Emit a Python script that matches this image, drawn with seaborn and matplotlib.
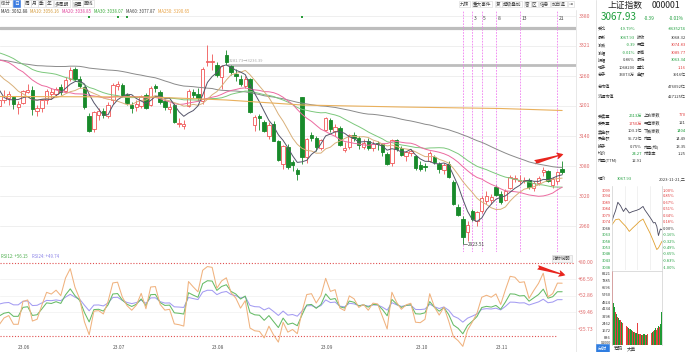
import numpy as np
import pandas as pd
import matplotlib
matplotlib.use("Agg")
import matplotlib.pyplot as plt
import seaborn as sns
from matplotlib.patches import Rectangle
from matplotlib.transforms import blended_transform_factory

# ---------------- data ----------------
# closes before the visible window (2023-02-27 .. 2023-05-25), used for MAs / RSI
pre_close = [3258.03, 3279.61, 3312.35, 3310.65, 3328.39, 3322.03, 3285.10, 3283.25, 3276.09, 3230.08,
             3268.70, 3245.31, 3263.31, 3226.89, 3250.55, 3234.91, 3255.65, 3265.75, 3286.65, 3265.65,
             3251.40, 3245.38, 3240.06, 3261.25, 3272.86,
             3296.40, 3312.56, 3312.39, 3327.65, 3315.36, 3313.57, 3318.36, 3336.15, 3338.15, 3385.61,
             3393.33, 3370.13, 3367.03, 3301.26, 3275.41, 3264.87, 3264.10, 3285.88, 3323.28,
             3350.46, 3334.50, 3395.00, 3357.67, 3319.15, 3309.55, 3272.36, 3310.75, 3290.99, 3284.23,
             3297.32, 3283.54, 3296.47, 3246.24, 3204.75, 3201.26]

dates = ["05-26", "05-29", "05-30", "05-31",
         "06-01", "06-02", "06-05", "06-06", "06-07", "06-08", "06-09", "06-12", "06-13", "06-14", "06-15",
         "06-16", "06-19", "06-20", "06-21", "06-26", "06-27", "06-28", "06-29", "06-30",
         "07-03", "07-04", "07-05", "07-06", "07-07", "07-10", "07-11", "07-12", "07-13", "07-14", "07-17",
         "07-18", "07-19", "07-20", "07-21", "07-24", "07-25", "07-26", "07-27", "07-28", "07-31",
         "08-01", "08-02", "08-03", "08-04", "08-07", "08-08", "08-09", "08-10", "08-11", "08-14", "08-15",
         "08-16", "08-17", "08-18", "08-21", "08-22", "08-23", "08-24", "08-25", "08-28", "08-29", "08-30", "08-31",
         "09-01", "09-04", "09-05", "09-06", "09-07", "09-08", "09-11", "09-12", "09-13", "09-14", "09-15",
         "09-18", "09-19", "09-20", "09-21", "09-22", "09-25", "09-26", "09-27", "09-28",
         "10-09", "10-10", "10-11", "10-12", "10-13", "10-16", "10-17", "10-18", "10-19", "10-20", "10-23",
         "10-24", "10-25", "10-26", "10-27", "10-30", "10-31",
         "11-01", "11-02", "11-03", "11-06", "11-07", "11-08", "11-09", "11-10", "11-13", "11-14", "11-15",
         "11-16", "11-17", "11-20", "11-21"]

open_ = [3201, 3213, 3216, 3218, 3198, 3206, 3229, 3232, 3190, 3196, 3213, 3225, 3225, 3238, 3230, 3254, 3274, 3255,
         3238, 3181, 3154, 3183, 3191, 3181, 3212, 3241, 3242, 3222, 3202, 3198, 3200, 3222, 3202, 3240, 3228, 3210,
         3195, 3202, 3164, 3160, 3200, 3229, 3225, 3210, 3288, 3288, 3283, 3258, 3302, 3280, 3264, 3255, 3240, 3254,
         3163, 3180, 3168, 3140, 3165, 3130, 3085, 3119, 3088, 3072, 3219, 3098, 3143, 3136, 3116, 3152, 3172, 3150,
         3157, 3112, 3118, 3143, 3137, 3118, 3130, 3116, 3126, 3124, 3104, 3086, 3132, 3116, 3101, 3106, 3100, 3082,
         3080, 3090, 3098, 3084, 3072, 3085, 3048, 2998, 2975, 2948, 2990, 2970, 2990, 3010, 3012, 3038, 3025, 3012,
         3036, 3055, 3050, 3050, 3052, 3036, 3046, 3068, 3070, 3043, 3050, 3074.83]
high = [3219, 3233, 3230, 3221, 3210, 3232, 3244, 3240, 3203, 3215, 3235, 3236, 3238, 3244, 3259, 3279, 3279, 3260,
        3240, 3186, 3190, 3196, 3197, 3208, 3247, 3250, 3246, 3226, 3208, 3212, 3222, 3226, 3240, 3244, 3232, 3214,
        3207, 3206, 3176, 3172, 3235, 3234, 3237, 3278, 3322, 3305, 3288, 3282, 3313, 3282, 3275, 3262, 3260, 3256,
        3182, 3185, 3172, 3168, 3170, 3133, 3122, 3124, 3093, 3076, 3219, 3136, 3148, 3140, 3135, 3179, 3177, 3164,
        3160, 3128, 3144, 3148, 3140, 3135, 3136, 3130, 3130, 3126, 3108, 3134, 3135, 3120, 3110, 3115, 3102, 3090,
        3086, 3110, 3103, 3088, 3086, 3090, 3052, 3005, 2980, 2970, 2995, 2990, 3020, 3030, 3024, 3042, 3030, 3035,
        3062, 3062, 3063, 3058, 3056, 3050, 3060, 3078, 3072, 3058, 3070, 3089.77]
low = [3195, 3207, 3203, 3195, 3184, 3204, 3226, 3182, 3180, 3189, 3205, 3215, 3220, 3222, 3228, 3250, 3250, 3237,
       3195, 3148, 3149, 3172, 3176, 3176, 3205, 3232, 3218, 3202, 3186, 3190, 3196, 3194, 3200, 3228, 3205, 3193,
       3187, 3166, 3158, 3155, 3198, 3216, 3210, 3205, 3280, 3272, 3259, 3235, 3282, 3262, 3250, 3240, 3236, 3186,
       3150, 3152, 3148, 3135, 3130, 3090, 3075, 3075, 3070, 3053, 3085, 3086, 3130, 3110, 3112, 3150, 3148, 3140,
       3120, 3108, 3115, 3130, 3115, 3115, 3112, 3110, 3112, 3100, 3082, 3080, 3110, 3100, 3091, 3100, 3072, 3070,
       3070, 3088, 3085, 3066, 3064, 3056, 3003, 2980, 2923.51, 2930, 2970, 2960, 2986, 3005, 3005, 3020, 3005, 3010,
       3035, 3048, 3045, 3046, 3035, 3030, 3042, 3060, 3048, 3036, 3044, 3063.34]
close = [3212, 3221, 3224, 3204, 3204, 3230, 3232, 3195, 3197, 3213, 3231, 3229, 3234, 3229, 3253, 3273, 3255, 3241,
         3198, 3150, 3189, 3190, 3182, 3202, 3243, 3245, 3222, 3206, 3197, 3204, 3221, 3197, 3236, 3237, 3209, 3198,
         3199, 3169, 3167, 3164, 3231, 3223, 3216, 3275, 3291, 3290, 3262, 3280, 3288, 3268, 3260, 3244, 3254, 3189,
         3178, 3176, 3150, 3163, 3131, 3092, 3120, 3078, 3082, 3064, 3098, 3135, 3137, 3119, 3133, 3177, 3154, 3158,
         3122, 3116, 3142, 3137, 3122, 3126, 3117, 3125, 3124, 3108, 3084, 3132, 3115, 3102, 3108, 3110, 3076, 3075,
         3078, 3107, 3088, 3074, 3083, 3058, 3005, 2983, 2939, 2962, 2974, 2988, 3017, 3021, 3018, 3023, 3009, 3030,
         3058, 3057, 3052, 3053, 3038, 3047, 3056, 3072, 3050, 3054, 3068, 3067.93]

# MA250 (date, value)
ma250_dates = ["05-26", "07-13", "08-04", "08-28", "09-26", "11-02", "11-21"]
ma250_vals = [3219, 3218, 3212, 3202, 3198, 3195, 3191]

price_ticks = [3380, 3321, 3260, 3201, 3140, 3080, 3020, 2960]
rsi_ticks = [80.00, 66.59, 52.86, 39.46, 25.73]
event_dates = ["06-26", "07-04", "07-06", "08-28"]
fib_dates = ["10-23", "10-25", "10-27", "11-01", "11-08", "11-20"]
fib_labels = ["", "3", "5", "8", "13", "21"]
hline_levels = [3356, 3282]

# intraday (mini chart)
it_min = [0, 8, 17, 28, 41, 55, 66, 83, 99, 116, 132, 149, 157, 174, 190, 199, 207, 215, 223, 232, 240]
it_price = [3074.8, 3079.0, 3083.0, 3089.7, 3086.9, 3082.4, 3085.1, 3081.2, 3082.4, 3083.2, 3084.3, 3086.4,
            3083.8, 3079.8, 3075.9, 3073.3, 3073.7, 3070.6, 3063.3, 3068.5, 3067.9]
it_avg_min = [0, 17, 33, 50, 66, 83, 99, 116, 132, 149, 166, 182, 199, 215, 223, 240]
it_avg = [3071.9, 3075.9, 3076.4, 3073.3, 3070.6, 3066.6, 3069.3, 3071.9, 3074.5, 3076.4, 3070.6, 3065.4,
          3058.8, 3052.2, 3053.5, 3058.8]
it_vol = [8870, 4870, 4440, 3830, 3600, 3290, 3100, 2950, 2900, 2700, 2530, 2600, 2400, 2250, 2100, 2000,
          1900, 1850, 1700, 1650, 1560, 1500, 1450, 1400, 2530, 1350, 1300, 1250, 1200, 1180, 1250, 1300,
          1200, 1150, 1250, 1350, 1300, 1400, 1500, 1600, 1750, 1950, 1800, 2000, 2200, 2100, 2400, 3800]
it_vol_up = [1, 0, 0, 1, 0, 1, 0, 0, 1, 0, 1, 0, 0, 1, 1, 0, 1, 0, 0, 1, 0, 1, 0, 0, 1, 0, 1, 1, 0, 1, 0, 0,
             1, 0, 1, 0, 1, 1, 0, 1, 0, 0, 1, 1, 0, 1, 0, 0]
prev_close = 3068.32
mini_pct = [1.00, 0.85, 0.67, 0.51, 0.34, 0.18, 0.00, -0.16, -0.32, -0.49, -0.65, -0.83, -1.00]
mini_price_lbl = ["3099", "3094", "3089", "3084", "3079", "3074", "3068", "3063", "3058", "3053", "3048", "3043", "3038"]
vol_lbl = ["8221", "7385", "6596", "5760", "4924", "4134", "3298", "2462", "1672", "836"]
vol_lbl_val = [8221, 7385, 6596, 5760, 4924, 4134, 3298, 2462, 1672, 836]

# ---------------- derived indicators ----------------
n = len(close)
idx = np.arange(n)
s_all = pd.Series(pre_close + close, dtype=float)
npre = len(pre_close)
ma = {k: s_all.rolling(k).mean().iloc[npre:].to_numpy() for k in (5, 10, 20, 30, 60)}
d = s_all.diff().iloc[1:]
def csma(x, k):
    return x.ewm(alpha=1.0 / k, adjust=False).mean()
rsi = {}
for k in (6, 12, 24):
    r = csma(d.clip(lower=0), k) / csma(d.abs(), k) * 100
    rsi[k] = r.iloc[npre - 1:].to_numpy()
pos = {dt: i for i, dt in enumerate(dates)}

# ---------------- figure ----------------
sns.set_theme(style="white")
plt.rcParams['font.family'] = ['Noto Sans CJK SC', 'DejaVu Sans']
W, H = 688, 352
fig = plt.figure(figsize=(W / 100, H / 100), dpi=100)
fig.patch.set_facecolor("white")

def ftext(x, y, s, **kw):
    kw.setdefault("va", "center")
    return fig.text(x / W, 1 - y / H, s, **kw)

RED = "#f05656"
GREEN = "#188a2a"
TXT_RED = "#e03c3c"
TXT_GREEN = "#1e9e3c"
DARK = "#333333"

PX = 4.73          # pixels per candle
X0 = -0.7          # pixel of first candle
xl = ((0 - X0) / PX, (576 - X0) / PX)

# main price axes
ax = fig.add_axes([0, 1 - 252 / H, 576 / W, 242 / H])
ax.set_xlim(*xl)
ax.set_ylim(2908, 3392)
for sp in ax.spines.values():
    sp.set_visible(False)
ax.set_xticks([]); ax.set_yticks([])
for p in price_ticks:
    ax.axhline(p, color="#ececec", lw=0.6, zorder=0)
tr = blended_transform_factory(ax.transAxes, ax.transData)
for p in price_ticks:
    ax.text(1.004, p, f"{p}", transform=tr, fontsize=3.7, color="#e06a6a", va="center", ha="left", clip_on=False)

# drawn horizontal lines
ax.axhline(hline_levels[0], color="#bdbdbd", lw=2.3, zorder=1)
ax.plot([pos["07-31"] + 4.4, xl[1]], [hline_levels[1]] * 2, color="#bdbdbd", lw=2.0, zorder=1)
ax.text(pos["07-31"] + 4.6, hline_levels[1] + 7, "3281.73→3236.39", fontsize=3.0, color="#aaaaaa", va="center")

# candles
for i in range(n):
    o, h, l, c = open_[i], high[i], low[i], close[i]
    up = c >= o
    col = RED if up else GREEN
    ax.vlines(i, l, h, color=col, lw=0.6, zorder=3)
    b = min(o, c)
    hh = max(abs(c - o), 1.0)
    ax.add_patch(Rectangle((i - 0.36, b), 0.72, hh, facecolor="white" if up else col,
                           edgecolor=col, lw=0.6, zorder=4))

# moving averages
ma_cols = {5: "#55556a", 10: "#d9b07a", 20: "#ec6aa0", 30: "#7cc87c", 60: "#8a8a8a"}
for k in (60, 30, 20, 10, 5):
    sns.lineplot(x=idx, y=ma[k], ax=ax, color=ma_cols[k], lw=0.7, legend=False, zorder=5)
sns.lineplot(x=[pos[d_] for d_ in ma250_dates], y=ma250_vals, ax=ax, color="#e9b05c", lw=0.8,
             legend=False, zorder=5)
ax.set_xlabel(""); ax.set_ylabel("")

# event markers
ax.scatter([pos[d_] for d_ in event_dates], [3378] * len(event_dates), s=2.5, marker="s",
           color="#2a9d3a", zorder=6, linewidths=0)

# fibonacci time lines
for d_, lab in zip(fib_dates, fib_labels):
    ax.axvline(pos[d_], color="#f07ef0", lw=0.6, ls=(0, (2, 1.5)), zorder=2)
    if lab:
        ax.text(pos[d_] + 0.35, 3374, lab, fontsize=3.6, color="#444", va="center", ha="left")

# low annotation
i_low = pos["10-23"]
ax.plot([i_low, i_low + 0.9], [low[i_low] - 0.5, low[i_low] - 0.5], color="#555", lw=0.5, zorder=6)
ax.text(i_low + 1.0, low[i_low] - 0.5, "2923.51", fontsize=3.4, color="#444", va="center", ha="left")

ax.set_xlim(*xl)
ax.set_ylim(2908, 3392)

# RSI axes
ax2 = fig.add_axes([0, 0, 576 / W, 99 / H])
ax2.set_xlim(*xl)
ax2.set_ylim(7.2, 87.9)
for sp in ax2.spines.values():
    sp.set_visible(False)
ax2.set_xticks([]); ax2.set_yticks([])
for v in rsi_ticks[1:]:
    ax2.axhline(v, color="#f2f2f2", lw=0.6, zorder=0)
ax2.plot([xl[0], xl[1] - 0.5], [80, 80], color="#e05050", lw=0.8, ls=(0, (1, 1.6)))
ax2.plot([xl[0], pos["11-20"]], [20, 20], color="#e05050", lw=0.8, ls=(0, (1, 1.6)))
rsi_cols = {6: "#f0b27e", 12: "#66bb66", 24: "#a49cf2"}
for k in (24, 12, 6):
    sns.lineplot(x=idx, y=rsi[k], ax=ax2, color=rsi_cols[k], lw=0.75, legend=False)
ax2.set_xlabel(""); ax2.set_ylabel("")
tr2 = blended_transform_factory(ax2.transAxes, ax2.transData)
for v in rsi_ticks:
    ax2.text(1.003, v, f"+{v:.2f}", transform=tr2, fontsize=3.7, color="#e06a6a", va="center",
             ha="left", clip_on=False)
# month labels
seen = set()
for i, d_ in enumerate(dates):
    m = d_[:2]
    if m not in seen:
        seen.add(m)
        if m != "05":
            ax2.text(i, 10.8, f"23.{m}", fontsize=3.5, color="#555", va="center", ha="left")

# red arrows
ax.annotate("", xy=(566, H - 153.5), xytext=(532, H - 163), xycoords="figure pixels",
            textcoords="figure pixels",
            arrowprops=dict(arrowstyle="fancy,head_length=0.7,head_width=0.7,tail_width=0.45",
                            color="#e8251e", mutation_scale=7, lw=0))
ax2.annotate("", xy=(568, H - 276), xytext=(535, H - 266.5), xycoords="figure pixels",
             textcoords="figure pixels",
             arrowprops=dict(arrowstyle="fancy,head_length=0.7,head_width=0.7,tail_width=0.45",
                             color="#e8251e", mutation_scale=7, lw=0))

# 指标说明 button
ftext(562, 258.5, "指标说明", fontsize=3.2, color="#444", ha="center",
      bbox=dict(boxstyle="square,pad=0.25", fc="#f4f4f4", ec="#cfcfcf", lw=0.4))

# RSI legend
ftext(1, 257, "RSI12: +56.15", fontsize=3.1, color="#4cae4c", ha="left")
ftext(32, 257, "RSI24: +49.74", fontsize=3.1, color="#8c84e8", ha="left")

# MA legend
leg = [(1, "MA5: 3062.88", "#333333"), (30, "MA10: 3056.16", "#d49a3a"),
       (62, "MA20: 3038.85", "#e0409a"), (94, "MA30: 3038.07", "#3aaa3a"),
       (126, "MA60: 3077.87", "#444444"), (158, "MA250: 3190.65", "#e8a040")]
for x, s_, c_ in leg:
    ftext(x, 11.5, s_, fontsize=3.1, color=c_, ha="left")

# toolbar
tb = [(1, "60分"), (25, "周"), (32, "月"), (39, "季"), (47, "年"), (55, "多周期"), (73, "设置"), (84, "画线")]
for x, s_ in tb:
    ftext(x, 3.8, s_, fontsize=3.4, color="#444", ha="left",
          bbox=dict(boxstyle="square,pad=0.2", fc="white", ec="#d6d6d6", lw=0.4))
ftext(14, 3.8, "日", fontsize=3.4, color="white", ha="left",
      bbox=dict(boxstyle="square,pad=0.25", fc="#3a7be0", ec="#3a7be0", lw=0.4))
tb2 = [(460, "九转"), (473, "重大事件"), (496, "复"), (503, "超级叠加"), (525, "窗"), (532, "区"),
       (540, "信息"), (552, "加自选"), (569, "⇥")]
for x, s_ in tb2:
    ftext(x, 4.0, s_, fontsize=3.3, color="#444", ha="left",
          bbox=dict(boxstyle="square,pad=0.2", fc="white", ec="#d6d6d6", lw=0.4))

# vertical separators
fig.add_artist(plt.Line2D([576 / W, 576 / W], [0, 1 - 10 / H], color="#e4e4e4", lw=0.6))
fig.add_artist(plt.Line2D([596 / W, 596 / W], [0, 1], color="#e0e0e0", lw=0.6))

# ---------------- right panel ----------------
ftext(608, 5.5, "上证指数", fontsize=6.3, color="#222", ha="left")
ftext(652, 5.5, "000001", fontsize=6.3, color="#222", ha="left")
ftext(601, 17.5, "3067.93", fontsize=7.2, color=TXT_GREEN, ha="left")
ftext(655, 18, "-0.39", fontsize=3.4, color=TXT_GREEN, ha="right")
ftext(684, 18, "-0.01%", fontsize=3.4, color=TXT_GREEN, ha="right")

FS = 3.0
rows_top = [
    (28.7, "委比", "-19.79%", TXT_GREEN, "", "-8635274", TXT_GREEN),
    (37.7, "最新", "3067.93", TXT_GREEN, "昨收", "3068.32", DARK),
    (45.3, "涨跌", "-0.39", TXT_GREEN, "开盘", "3074.83", TXT_RED),
    (52.7, "涨幅", "-0.01%", TXT_GREEN, "最高", "3089.77", TXT_RED),
    (60.0, "振幅", "0.86%", DARK, "最低", "3063.34", TXT_GREEN),
    (67.7, "现手", "1068200", DARK, "量比", "1.16", TXT_RED),
    (75.0, "总手", "33073万", DARK, "金额", "3916亿", DARK),
]
for y, l1, v1, c1, l2, v2, c2 in rows_top:
    ftext(598, y, l1, fontsize=FS, color=DARK, ha="left")
    ftext(635, y, v1, fontsize=FS, color=c1, ha="right")
    if l2:
        ftext(636.5, y, l2, fontsize=FS, color=DARK, ha="left")
    ftext(686, y, v2, fontsize=FS, color=c2, ha="right")
ftext(598, 87.3, "总市值", fontsize=FS, color=DARK, ha="left")
ftext(686, 87.3, "476092亿", fontsize=FS, color=DARK, ha="right")
ftext(598, 97.0, "流通市值", fontsize=FS, color=DARK, ha="left")
ftext(686, 97.0, "427125亿", fontsize=FS, color=DARK, ha="right")
rows_bot = [
    (115.5, "委卖量", "2613万", TXT_GREEN, "上涨家数", "770", TXT_RED),
    (123.5, "委买量", "1750万", TXT_RED, "平盘家数", "121", DARK),
    (131.5, "卖金额", "103.1亿", DARK, "下跌家数", "1404", TXT_GREEN),
    (139.0, "买金额", "95.72亿", DARK, "市盈", "14.49", DARK),
    (146.5, "换手", "0.75%", DARK, "市盈(动)", "13.35", DARK),
    (154.0, "均价", "24.27", TXT_GREEN, "市净率", "1.25", DARK),
    (161.5, "市盈(TTM)", "12.91", DARK, "", "", DARK),
]
for y, l1, v1, c1, l2, v2, c2 in rows_bot:
    ftext(598, y, l1, fontsize=FS, color=DARK, ha="left")
    ftext(642, y, v1, fontsize=FS, color=c1, ha="right")
    if l2:
        ftext(643.5, y, l2, fontsize=FS, color=DARK, ha="left")
    if v2:
        ftext(686, y, v2, fontsize=FS, color=c2, ha="right")
ftext(598, 179, "现价", fontsize=FS, color=DARK, ha="left")
ftext(617, 179, "3067.93", fontsize=FS, color=TXT_GREEN, ha="left")
ftext(686, 179, "2023-11-21,二", fontsize=FS, color=DARK, ha="right")

# mini intraday chart
ax3 = fig.add_axes([612 / W, 1 - 270 / H, 50 / W, 84 / H])
ax3.set_xlim(0, 240)
ax3.set_ylim(3036.0, 3102.6)
ax3.set_xticks([]); ax3.set_yticks([])
for k, sp in ax3.spines.items():
    sp.set_visible(k in ("left", "right"))
    sp.set_color("#cfcfcf"); sp.set_linewidth(0.5)
for t in (60, 120, 180):
    ax3.axvline(t, color="#ececec", lw=0.5)
sns.lineplot(x=it_avg_min, y=it_avg, ax=ax3, color="#e0a030", lw=0.6, legend=False)
sns.lineplot(x=it_min, y=it_price, ax=ax3, color="#4a4a60", lw=0.6, legend=False)
ax3.set_xlabel(""); ax3.set_ylabel("")
tr3 = blended_transform_factory(ax3.transAxes, ax3.transData)
for pct, lab in zip(mini_pct, mini_price_lbl):
    yv = prev_close * (1 + pct / 100)
    col = TXT_RED if pct > 0 else (DARK if pct == 0 else TXT_GREEN)
    ax3.text(-0.02, yv, lab, transform=tr3, fontsize=2.9, color=col, ha="right", va="center", clip_on=False)
    ax3.text(1.02, yv, f"{pct:.2f}%", transform=tr3, fontsize=2.9, color=col, ha="left", va="center",
             clip_on=False)

ax4 = fig.add_axes([612 / W, 1 - 345.2 / H, 50 / W, 74.2 / H])
vol_df = pd.DataFrame({"t": np.arange(len(it_vol)), "v": it_vol,
                       "c": ["u" if u else "d" for u in it_vol_up]})
sns.barplot(data=vol_df, x="t", y="v", hue="c", palette={"u": "#e84040", "d": "#1e9a34"},
            ax=ax4, width=0.85, legend=False, native_scale=True, linewidth=0, saturation=1)
ax4.set_xlim(-0.5, len(it_vol) - 0.5)
ax4.set_ylim(0, 8563)
ax4.set_xticks([]); ax4.set_yticks([])
ax4.set_xlabel(""); ax4.set_ylabel("")
for k, sp in ax4.spines.items():
    sp.set_visible(k in ("left", "right", "top"))
    sp.set_color("#cfcfcf"); sp.set_linewidth(0.5)
tr4 = blended_transform_factory(ax4.transAxes, ax4.transData)
for lab, v in zip(vol_lbl, vol_lbl_val):
    ax4.text(-0.02, v, lab, transform=tr4, fontsize=2.9, color=DARK, ha="right", va="center", clip_on=False)
ftext(611, 342.5, "X1000", fontsize=2.7, color=DARK, ha="right")

# tabs
ftext(598, 348.5, "分时", fontsize=3.3, color="white", ha="left",
      bbox=dict(boxstyle="square,pad=0.35", fc="#2f7de1", ec="#2f7de1", lw=0.4))
ftext(614, 348.5, "筹码", fontsize=3.3, color="#333", ha="left")
ftext(627, 348.5, "大单", fontsize=3.3, color="#333", ha="left")

fig.savefig("out.png", dpi=100, facecolor="white")
